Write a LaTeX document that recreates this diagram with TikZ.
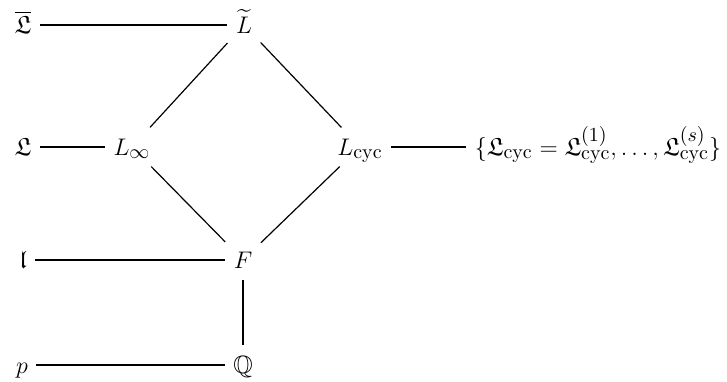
\documentclass[tikz,border=0pt]{standalone}
\usepackage{amsmath,amssymb}
\DeclareMathSizes{12.5}{12.5}{10}{7.5}
\begin{document}
\begin{tikzpicture}[
    x=0.5pt, y=-0.5pt,
    every node/.style={inner sep=4pt, text height=9.5pt, text depth=1.5pt,
      font=\fontsize{12.5}{15}\selectfont},
    every path/.style={line width=0.6pt}
  ]
  \useasboundingbox (0,0) rectangle (727,381);
  \node (Lb) at (23,25) {$\overline{\mathfrak{L}}$};
  \node (Lt) at (244,25) {$\widetilde{L}$};
  \node (Lf) at (23,147) {$\mathfrak{L}$};
  \node (Li) at (132,147) {$L_\infty$};
  \node (Lc) at (360,147) {$L_{\mathrm{cyc}}$};
  \node (S) at (598,147) {$\{\mathfrak{L}_{\mathrm{cyc}}=\mathfrak{L}_{\mathrm{cyc}}^{(1)},\dots,\mathfrak{L}_{\mathrm{cyc}}^{(s)}\}$};
  \node (l) at (23,260) {$\mathfrak{l}$};
  \node (F) at (243,260) {$F$};
  \node (p) at (22,365) {$p$};
  \node (Q) at (243,365) {$\mathbb{Q}$};
  \draw (Lb) -- (Lt);
  \draw (Lf) -- (Li);
  \draw (Lc) -- (S);
  \draw (l) -- (F);
  \draw (p) -- (Q);
  \draw (Lt) -- (Li);
  \draw (Lt) -- (Lc);
  \draw (Li) -- (F);
  \draw (Lc) -- (F);
  \draw (F) -- (Q);
\end{tikzpicture}
\end{document}
